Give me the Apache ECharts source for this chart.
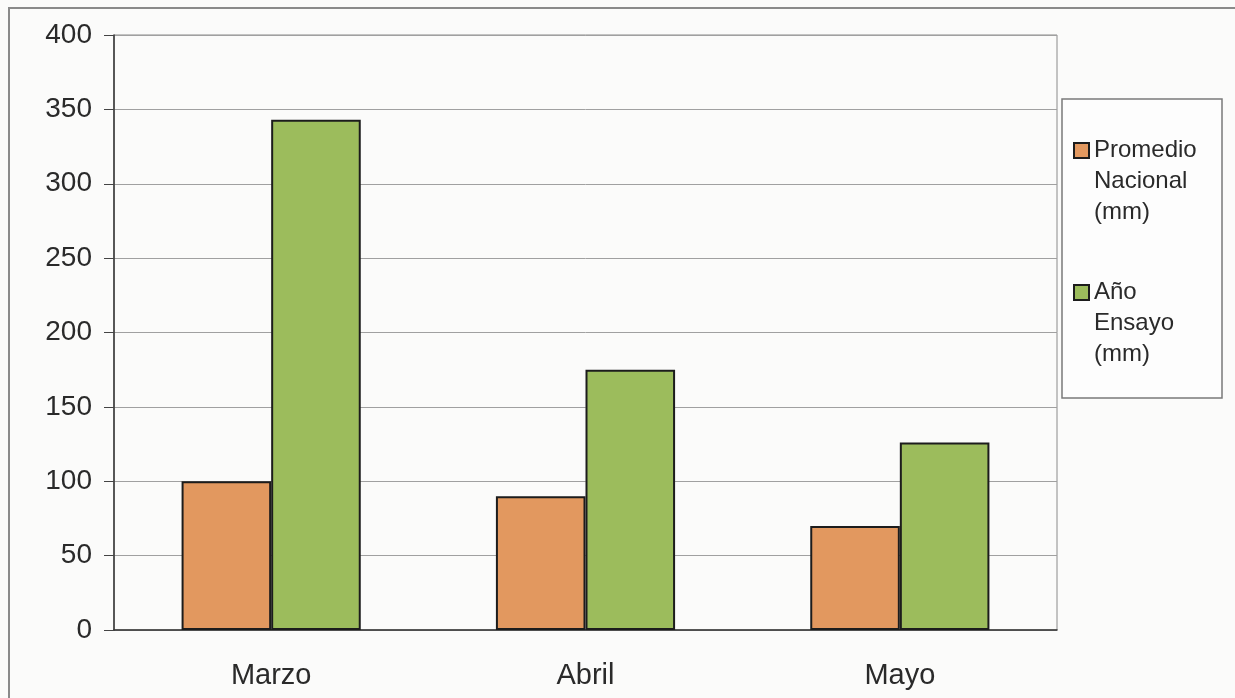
<!DOCTYPE html>
<html>
<head>
<meta charset="utf-8">
<script src="https://cdn.jsdelivr.net/npm/echarts@6/dist/echarts.min.js"></script>
<style>
  html, body { margin: 0; padding: 0; background: #fbfbfa; }
  #chart { width: 1235px; height: 698px; }
</style>
</head>
<body>
<div id="chart"></div>
<script>
// months on the x axis
const categories = ['Marzo', 'Abril', 'Mayo'];
// rainfall (mm)
const promedioNacional = [100, 90, 70];
const anoEnsayo = [343, 175, 126];
const seriesNames = ['Promedio Nacional (mm)', 'Año Ensayo (mm)'];
const yTicks = { min: 0, max: 400, interval: 50 };

const FONT = '"Liberation Sans", Arial, sans-serif';
const chart = echarts.init(document.getElementById('chart'));

const option = {
    backgroundColor: '#fbfbfa',
    animation: false,
    grid: {
        left: 114, right: 178, top: 35, bottom: 68,
        show: true, borderColor: '#8a8a8a', borderWidth: 1
    },
    // outer frame + legend box
    graphic: [
        { type: 'rect', z: 0, shape: { x: 9, y: 8, width: 1240, height: 700 },
          style: { fill: 'none', stroke: '#8a8a8a', lineWidth: 2 } },
        { type: 'rect', z: 0, shape: { x: 1062, y: 99, width: 160, height: 299 },
          style: { fill: '#fdfdfd', stroke: '#7a7a7a', lineWidth: 1.5 } }
    ],
    legend: {
        orient: 'vertical',
        left: 1073, top: 73,
        padding: 0,
        itemGap: -13,
        itemWidth: 15, itemHeight: 15,
        icon: 'rect',
        // two blank lines on top so the first word sits beside the swatch
        formatter: name => '\n\n' + name.split(' ').join('\n'),
        textStyle: {
            fontFamily: FONT, fontSize: 24, lineHeight: 31, color: '#2a2a2a'
        }
    },
    xAxis: {
        type: 'category',
        data: categories,
        axisLine: { lineStyle: { color: '#333', width: 1.5 } },
        axisTick: { length: 10, lineStyle: { color: '#444' } },
        axisLabel: { fontFamily: FONT, fontSize: 29, color: '#2a2a2a', margin: 31 }
    },
    yAxis: {
        type: 'value',
        min: yTicks.min, max: yTicks.max, interval: yTicks.interval,
        axisLine: { show: true, lineStyle: { color: '#333', width: 1.5 } },
        axisTick: { show: true, length: 10, lineStyle: { color: '#444' } },
        axisLabel: { fontFamily: FONT, fontSize: 28, color: '#2a2a2a', margin: 22 },
        splitLine: { lineStyle: { color: '#a0a0a0', width: 1 } }
    },
    series: [
        {
            name: seriesNames[0], type: 'bar', data: promedioNacional,
            barGap: '0%', barCategoryGap: '43%',
            itemStyle: { color: '#e2985f', borderColor: '#1c1c1c', borderWidth: 2 }
        },
        {
            name: seriesNames[1], type: 'bar', data: anoEnsayo,
            barGap: '0%', barCategoryGap: '43%',
            itemStyle: { color: '#9cbc5c', borderColor: '#1c1c1c', borderWidth: 2 }
        }
    ]
};

chart.setOption(option);
</script>
</body>
</html>
